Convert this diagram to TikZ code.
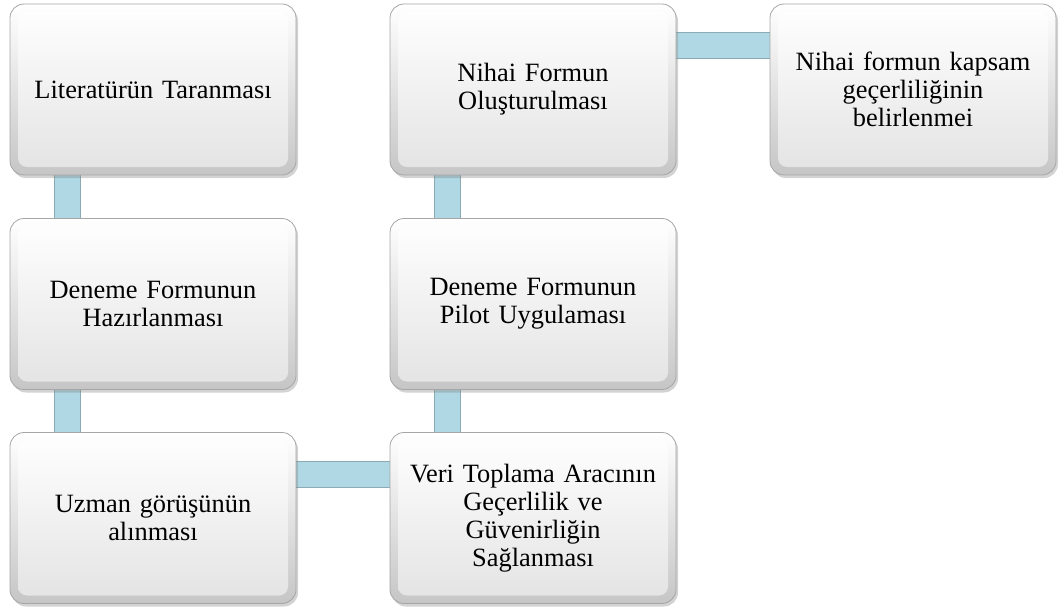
\documentclass[tikz,border=0pt]{standalone}
\usepackage{fontspec}
\setmainfont{Liberation Serif}
\usetikzlibrary{shadows,backgrounds}
\definecolor{barblue}{RGB}{176,216,228}
\definecolor{baredge}{RGB}{140,170,180}
\tikzset{
  box/.style={rounded corners=14pt, minimum width=286pt, minimum height=171pt,
    inner sep=0pt, text width=272pt, align=center,
    top color=white, bottom color=gray!45, draw=gray!70, line width=0.8pt,
    drop shadow={shadow xshift=2pt, shadow yshift=-3pt, opacity=0.35, fill=gray},
    font=\fontsize{26.4}{28}\selectfont,
    path picture={
      \shade[top color=white, bottom color=gray!22, rounded corners=9pt]
        ([shift={(8pt,-8pt)}]path picture bounding box.north west) rectangle
        ([shift={(-8pt,8pt)}]path picture bounding box.south east);
    }},
  barout/.style={draw=baredge, line width=27pt},
  barin/.style={draw=barblue, line width=25pt}
}
\begin{document}
\begin{tikzpicture}[x=1pt,y=-1pt]
\useasboundingbox (0,0) rectangle (1059,607);
\node[box] (b1) at (153,89.5) {Literatürün Taranması};
\node[box] (b2) at (153,304) {Deneme Formunun\\Hazırlanması};
\node[box] (b3) at (153,518) {Uzman görüşünün\\alınması};
\node[box] (b4) at (533,518) {Veri Toplama Aracının\\Geçerlilik ve\\Güvenirliğin\\Sağlanması};
\node[box] (b5) at (533,304) {Deneme Formunun\\Pilot Uygulaması};
\node[box] (b6) at (533,89.5) {Nihai Formun\\Oluşturulması};
\node[box] (b7) at (913,89.5) {Nihai formun kapsam\\geçerliliğinin\\belirlenmei};
\begin{pgfonlayer}{background}
\foreach \a/\b in {b1/b2,b2/b3,b6/b5,b5/b4}{
  \draw[barout] ([xshift=58pt,yshift=5pt]\a.south west) -- ([xshift=58pt,yshift=-5pt]\b.north west);
  \draw[barin] ([xshift=58pt,yshift=5pt]\a.south west) -- ([xshift=58pt,yshift=-5pt]\b.north west);
}
\foreach \a/\b in {b3/b4,b6/b7}{
  \draw[barout] ([xshift=-5pt,yshift=-42pt]\a.north east) -- ([xshift=5pt,yshift=-42pt]\b.north west);
  \draw[barin] ([xshift=-5pt,yshift=-42pt]\a.north east) -- ([xshift=5pt,yshift=-42pt]\b.north west);
}
\end{pgfonlayer}
\end{tikzpicture}
\end{document}
